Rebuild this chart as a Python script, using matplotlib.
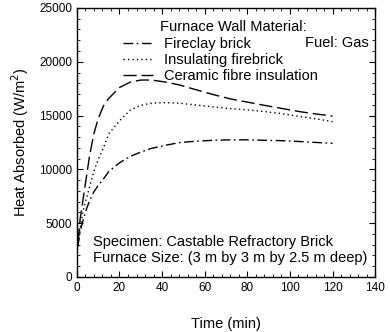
import matplotlib
matplotlib.use('Agg')
import matplotlib.pyplot as plt
from matplotlib.ticker import MultipleLocator

plt.rcParams['font.family'] = ['Liberation Sans', 'DejaVu Sans']

time_min = [0.5, 1.5, 3, 4.5, 6, 8, 10, 12.5, 15, 20, 25, 30, 35, 42, 48,
            55, 64, 72, 80, 88, 95, 105, 112, 120]
fireclay = [2800, 4200, 5300, 6300, 7100, 7900, 8500, 9100, 9800, 10600, 11200,
            11600, 11950, 12250, 12480, 12600, 12700, 12740, 12740, 12700,
            12670, 12580, 12500, 12420]
insulating = [3000, 4500, 6200, 7300, 8400, 9800, 10900, 12000, 13300, 14500,
              15500, 15950, 16150, 16200, 16150, 16000, 15800, 15650, 15520,
              15370, 15210, 14900, 14700, 14430]
ceramic = [3300, 5300, 7300, 9300, 11300, 13300, 14700, 15900, 16600, 17600,
           18100, 18300, 18300, 18100, 17850, 17450, 16950, 16550, 16250,
           15950, 15700, 15350, 15150, 14950]

labels = ['Fireclay brick', 'Insulating firebrick', 'Ceramic fibre insulation']

fig = plt.figure(figsize=(3.9, 3.32), dpi=100)
ax = fig.add_axes([0.197, 0.166, 0.765, 0.81])

ax.plot(time_min, fireclay, color='black', lw=1, dashes=(7, 2.5, 1.2, 2.5), label=labels[0])
ax.plot(time_min, insulating, color='black', lw=1, dashes=(1, 2.2), label=labels[1])
ax.plot(time_min, ceramic, color='black', lw=1, dashes=(9.5, 3.5), label=labels[2])

ax.set_xlim(0, 140)
ax.set_ylim(0, 25000)
ax.xaxis.set_major_locator(MultipleLocator(20))
ax.xaxis.set_minor_locator(MultipleLocator(4))
ax.yaxis.set_major_locator(MultipleLocator(5000))
ax.yaxis.set_minor_locator(MultipleLocator(1000))
ax.tick_params(which='both', direction='in', top=True, right=True, labelsize=8.5)
ax.tick_params(which='major', length=4)
ax.tick_params(which='minor', length=2.5)
for s in ax.spines.values():
    s.set_linewidth(1)

ax.set_xlabel('Time (min)', fontsize=10.5, labelpad=17)
ax.set_ylabel('Heat Absorbed (W/m$^2$)', fontsize=10.5, labelpad=6)

# legend title drawn as separate text so it can sit off-centre like the original
ax.text(0.279, 0.93, 'Furnace Wall Material:', transform=ax.transAxes,
        fontsize=10.5, va='center')
leg = ax.legend(loc='upper left', bbox_to_anchor=(0.154, 0.893), frameon=False,
                fontsize=10.5, handlelength=2.05, handletextpad=0.8,
                labelspacing=0.15, borderpad=0, borderaxespad=0)
ax.text(0.765, 0.87, 'Fuel: Gas', transform=ax.transAxes, fontsize=10.5, va='center')
ax.text(0.055, 0.115, 'Specimen: Castable Refractory Brick', transform=ax.transAxes, fontsize=10.5)
ax.text(0.055, 0.055, 'Furnace Size: (3 m by 3 m by 2.5 m deep)', transform=ax.transAxes, fontsize=10.5)

fig.savefig('out.png', dpi=100)
